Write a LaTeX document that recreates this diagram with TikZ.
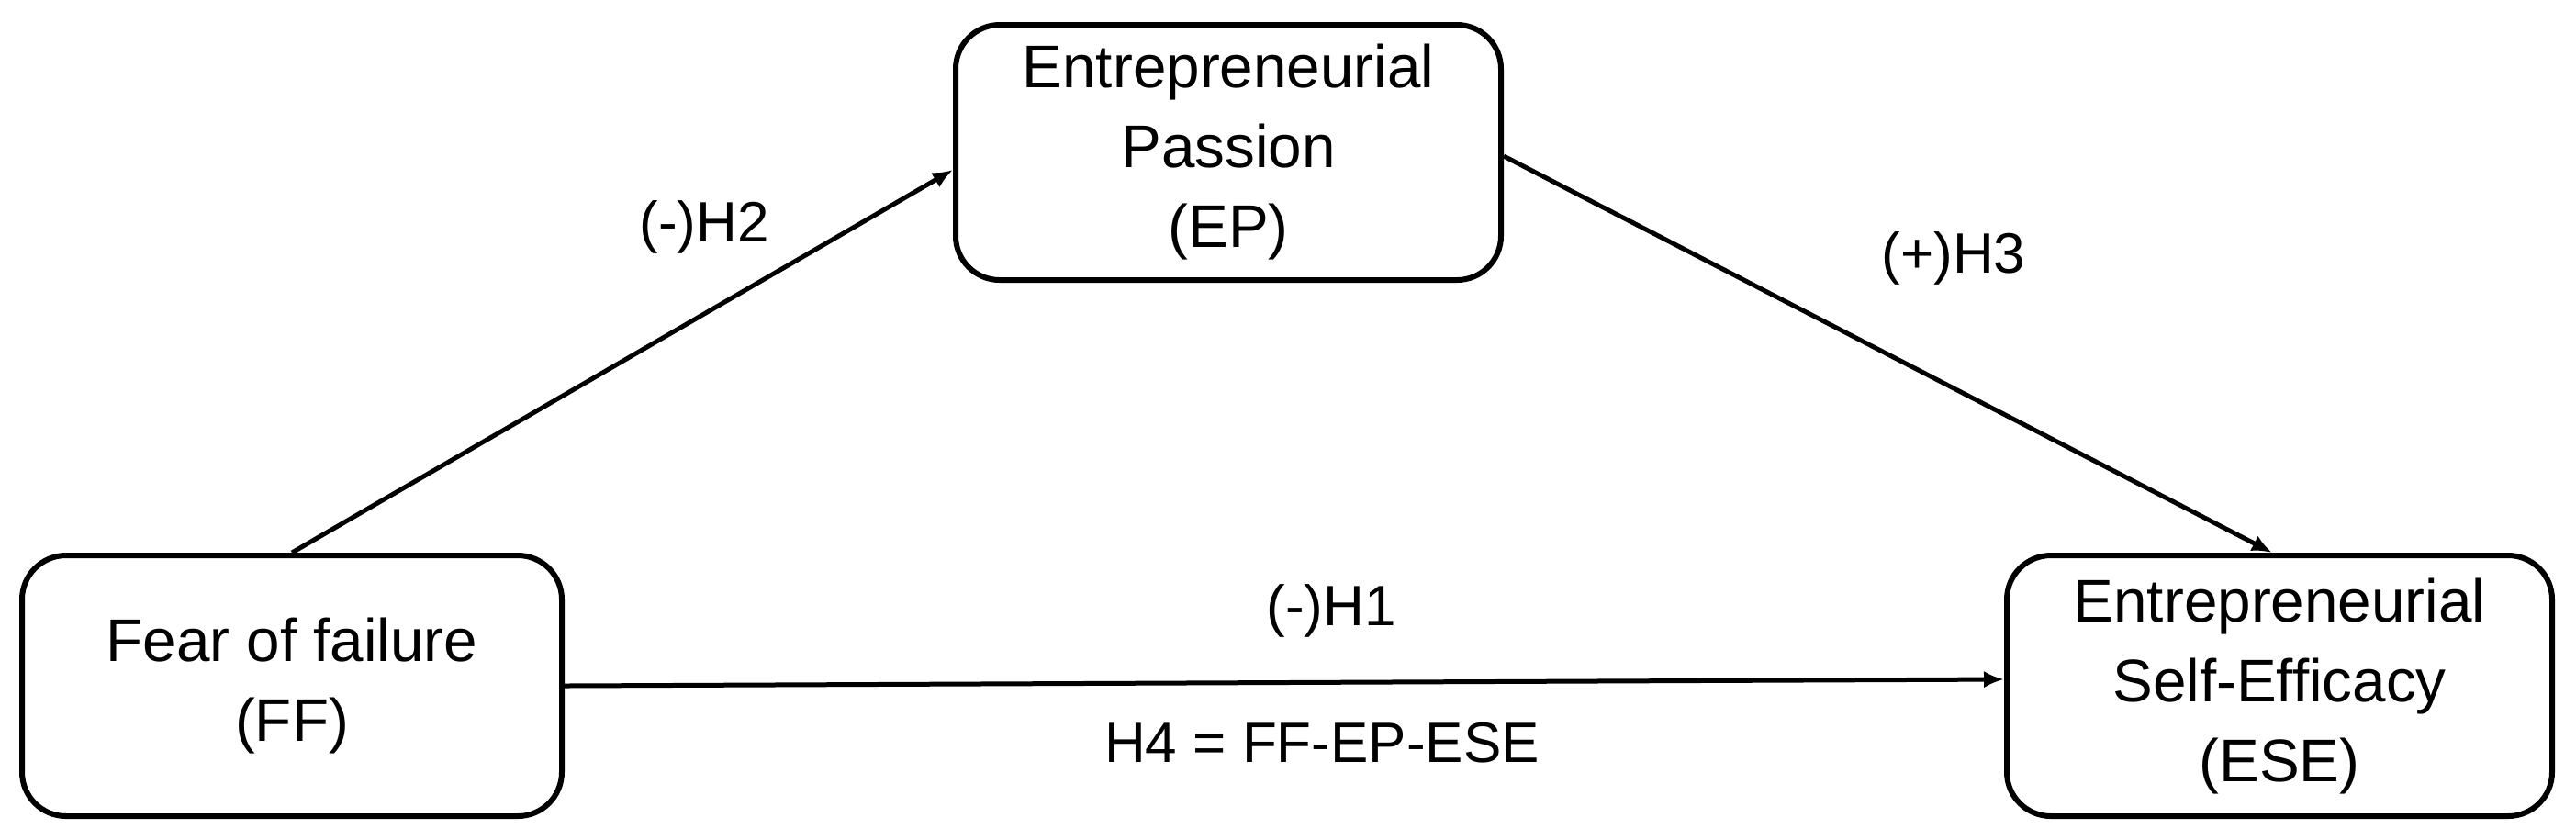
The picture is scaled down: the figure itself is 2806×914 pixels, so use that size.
\documentclass[tikz,border=0pt]{standalone}
\usepackage{fontspec}
\setmainfont{Liberation Sans}
\usetikzlibrary{arrows.meta}
\begin{document}
\begin{tikzpicture}[x=0.25pt,y=-0.25pt,
  varbox/.style={draw=black, line width=1.5pt, rounded corners=12pt, align=center,
    inner sep=0pt, font=\fontsize{16.4}{21.75}\selectfont},
  link/.style={draw=black, line width=1.25pt, -{Latex[length=5.5pt,width=4.6pt]}},
  hyp/.style={anchor=base, inner sep=0pt, font=\fontsize{15.5}{20}\selectfont}
]
\useasboundingbox (0,0) rectangle (2806,914);
\node[varbox, minimum width=147pt, minimum height=71pt] (FF) at (318,747) {Fear of failure\\(FF)};
\node[varbox, minimum width=148.5pt, minimum height=69.5pt] (EP) at (1338,166) {Entrepreneurial\\Passion\\(EP)};
\node[varbox, minimum width=148.5pt, minimum height=71pt] (ESE) at (2483,747) {Entrepreneurial\\Self-Efficacy\\(ESE)};
\draw[link] (FF.north) -- ([yshift=-4.75pt]EP.west);
\draw[link] ([yshift=-1pt]EP.east) -- ([xshift=-2pt]ESE.north);
\draw[link] (FF.east) -- ([yshift=1.75pt]ESE.west);
\node[hyp] (h2) at (767,263) {(-)H2};
\node[hyp] (h3) at (2128,297) {(+)H3};
\node[hyp] (h1) at (1450,681) {(-)H1};
\node[hyp] (h4) at (1440,830) {H4 = FF-EP-ESE};
\end{tikzpicture}
\end{document}
